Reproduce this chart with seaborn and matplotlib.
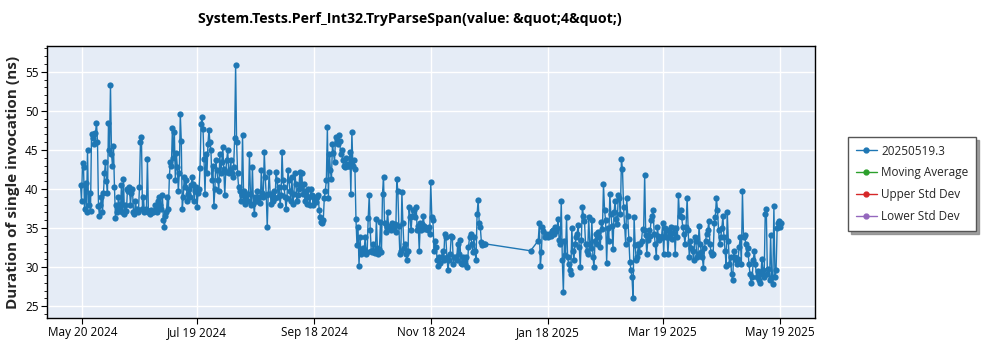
import matplotlib
matplotlib.use("Agg")
import matplotlib.pyplot as plt
import matplotlib.dates as mdates
from matplotlib.ticker import MultipleLocator
from matplotlib.lines import Line2D
import numpy as np
import pandas as pd
import seaborn as sns

TITLE = "System.Tests.Perf_Int32.TryParseSpan(value: &quot;4&quot;)"
Y_LABEL = "Duration of single invocation (ns)"
SERIES_NAME = "20250519.3"
EXTRA_SERIES = ["Moving Average", "Upper Std Dev", "Lower Std Dev"]

# Benchmark runs, grouped by period: (first run, last run, durations in ns)
runs_may_jul = [
    40.5, 38.5, 43.3, 42.8, 37.5, 40.8, 37.0, 45.0, 38.0, 39.5, 37.2, 47.0, 46.5, 47.0, 45.8, 47.2,
    48.5, 46.0, 37.8, 36.5, 38.0, 39.0, 37.0, 39.5, 42.0, 43.5, 41.0, 39.5, 48.5, 45.0, 53.3, 44.5,
    43.0, 45.5, 40.2, 36.3, 38.0, 37.0, 39.0, 38.0, 37.5, 40.5, 37.0, 41.3, 36.8, 38.0, 37.2, 40.0,
    39.8, 40.2, 38.0, 39.5, 40.0, 37.0, 36.8, 38.5, 37.2, 37.5, 37.0, 40.2, 46.0, 46.7, 37.5, 39.0,
    37.0, 37.3, 37.5, 43.8, 37.0, 37.2, 36.8, 37.3, 37.0, 37.0, 37.2, 38.0, 37.4, 37.0, 38.5, 39.0,
    38.0, 37.5, 39.2, 36.0, 35.2, 36.5, 37.0, 39.0, 37.5, 41.7, 43.5, 43.0, 47.8, 44.0,
]
runs_jul_sep = [
    47.3, 41.1, 44.6, 42.8, 39.8, 42.0, 49.6, 46.2, 37.4, 39.0, 41.5, 40.3, 41.1, 38.5, 39.4, 40.0,
    39.0, 40.5, 41.5, 40.7, 38.5, 39.8, 40.3, 37.7, 39.5, 40.0, 42.7, 48.3, 49.2, 47.7, 43.9, 39.4,
    44.5, 42.0, 45.8, 47.6, 46.0, 45.0, 41.1, 43.0, 37.8, 40.0, 43.7, 42.4, 41.1, 39.8, 44.5, 42.0,
    43.5, 45.4, 42.6, 39.2, 42.2, 43.7, 45.0, 42.0, 42.4, 43.7, 42.0, 41.5, 42.8, 46.5, 55.9, 46.0,
    42.0, 40.3, 39.8, 38.5, 39.2, 46.9, 39.8, 38.1, 39.0, 38.5, 39.4, 38.5, 44.5, 39.4, 38.0, 42.8,
    38.1, 36.8, 39.0, 38.5, 39.8, 38.5, 39.0, 38.2, 42.4, 39.5, 39.0, 44.8, 41.5, 39.2, 35.1, 39.4,
    42.2, 39.4, 38.1, 39.4, 38.5, 39.8, 38.9, 42.2, 41.1, 39.0, 40.3, 38.0, 39.2, 44.8, 41.1, 40.3,
    39.0, 37.5, 38.8, 42.4, 41.1, 39.8, 38.5, 41.5, 38.1, 39.4, 42.0, 40.7, 38.5, 39.2, 40.0,
]
runs_sep_nov = [
    42.2, 40.5, 42.0, 39.4, 40.7, 38.5, 39.8, 38.1, 40.0, 39.0, 38.0, 40.0, 39.2, 38.0, 39.0, 38.5,
    38.4, 39.0, 39.2, 37.3, 36.4, 35.8, 35.6, 36.0, 38.9, 39.8, 41.1, 47.9, 38.9, 44.5, 42.4, 41.3,
    45.8, 44.6, 43.5, 46.6, 46.2, 45.8, 46.9, 46.2, 44.5, 45.0, 43.7, 43.0, 42.8, 44.0, 43.2, 42.9,
    43.0, 44.8, 39.4, 47.3, 42.9, 43.7, 42.5, 36.2, 32.8, 35.1, 30.2, 33.8, 31.7, 31.9, 32.5, 32.1,
    33.8, 31.7, 32.0, 36.3, 39.2, 34.7, 32.1, 31.9, 33.0, 32.0, 31.8, 36.2, 32.5, 31.7, 32.3, 35.8,
    32.0, 39.4, 41.5, 35.6, 34.5, 35.2, 37.1, 35.1, 35.3, 34.7, 35.6, 35.1, 34.9, 35.5, 34.5, 41.3,
    39.8, 35.3, 31.7, 32.1, 39.6, 35.6, 32.5, 33.0, 31.7, 30.9, 32.1, 37.7, 36.4, 34.7, 36.6, 37.3,
    37.3, 36.4, 37.7, 34.7, 35.3, 32.1, 35.6, 34.7, 35.5, 36.5,
]
runs_nov_dec = [
    35.3, 34.9, 35.0, 34.7, 35.1, 34.3, 40.9, 36.4, 36.0, 32.1, 33.4, 32.6, 30.9, 30.2, 31.3, 30.6,
    31.3, 32.1, 30.9, 34.3, 33.8, 31.3, 29.6, 30.9, 31.7, 34.0, 33.8, 30.4, 31.3, 31.3, 30.9, 33.0,
    31.7, 33.5, 30.6, 30.4, 31.3, 30.9, 30.4, 31.3, 30.0, 32.6, 33.8, 34.3, 33.0, 31.9, 33.8, 32.1,
    30.9, 36.8, 38.6, 35.6, 35.1, 33.2, 32.8, 33.0, 33.0,
]
runs_jan_single = [32.1]
runs_jan = [33.4, 35.6, 30.1, 31.9, 35.2, 34.6, 33.8, 34.2, 34.0, 33.8, 34.3, 34.1]
runs_jan_mar = [
    34.0, 34.6, 34.8, 34.3, 35.1, 34.6, 35.0, 36.2, 33.5, 33.0, 38.5, 30.9, 26.8, 33.4, 31.5, 36.4,
    31.3, 30.4, 29.6, 29.1, 35.0, 32.1, 30.9, 33.0, 33.8, 34.3, 35.4, 32.6, 30.0, 33.5, 37.7, 36.6,
    35.9, 33.0, 32.1, 31.7, 36.4, 33.0, 32.5, 36.0, 31.3, 30.0, 33.4, 34.3, 33.0, 34.5, 33.8, 32.6,
    35.8, 34.9, 40.6, 37.3, 36.0, 30.6, 35.0, 33.4, 39.4, 36.8, 35.3, 32.3, 37.0, 38.5, 36.2, 35.5,
    39.2, 38.8, 36.8, 43.8, 42.5, 37.7, 35.3, 33.0, 38.8, 36.5, 33.6, 30.7, 29.6, 28.7, 26.0, 36.4,
    32.8, 30.9, 31.3, 33.0, 32.0, 33.0, 33.4, 34.9, 34.7, 41.8, 34.1, 31.7, 33.5, 34.7, 34.0, 36.0,
    36.6, 37.3, 34.3, 33.0, 31.3, 35.1, 34.0, 33.5, 33.8, 33.9, 35.6, 31.7, 35.0, 33.8, 34.8, 31.7,
    33.9, 34.2, 35.2, 33.6, 34.4, 35.0,
]
runs_mar_may = [
    31.7, 35.0, 33.8, 39.2, 36.5, 37.3, 36.4, 35.1, 34.3, 33.0, 35.1, 38.9, 34.7, 31.3, 33.4, 32.5,
    32.1, 30.9, 33.8, 33.4, 31.3, 31.7, 35.3, 33.0, 32.0, 31.3, 29.9, 32.5, 33.4, 34.3, 34.7, 35.9,
    33.0, 32.0, 31.5, 31.7, 35.6, 36.4, 38.9, 37.3, 34.7, 33.0, 33.8, 35.0, 36.6, 33.8, 32.1, 30.2,
    37.1, 33.4, 30.4, 31.3, 29.1, 28.3, 32.1, 31.3, 30.9, 30.4, 31.0, 32.6, 33.8, 30.4, 39.7, 33.8,
    34.1, 33.0, 31.7, 32.5, 30.4, 29.1, 28.0, 28.7, 30.9, 32.1, 30.4, 28.7, 29.5, 28.4, 28.0, 29.1,
    31.1, 29.6, 28.7, 36.8, 37.4, 29.1, 29.8, 28.3, 34.1, 28.7, 27.9, 37.8, 28.7, 29.6, 35.0, 35.6,
    35.9, 35.1, 35.7,
]

periods = [
    ("2024-05-19 00:00", "2024-07-06 12:00", runs_may_jul),
    ("2024-07-07 00:00", "2024-09-10 00:00", runs_jul_sep),
    ("2024-09-10 12:00", "2024-11-14 00:00", runs_sep_nov),
    ("2024-11-14 12:00", "2024-12-16 00:00", runs_nov_dec),
    ("2025-01-09 00:00", "2025-01-09 00:00", runs_jan_single),
    ("2025-01-13 00:00", "2025-01-19 00:00", runs_jan),
    ("2025-01-19 12:00", "2025-03-25 00:00", runs_jan_mar),
    ("2025-03-25 12:00", "2025-05-20 00:00", runs_mar_may),
]

tick_dates = ["2024-05-20", "2024-07-19", "2024-09-18", "2024-11-18",
              "2025-01-18", "2025-03-19", "2025-05-19"]
y_ticks = [25, 30, 35, 40, 45, 50, 55]

frames = []
for start, end, vals in periods:
    stamps = pd.date_range(start, end, periods=len(vals))
    frames.append(pd.DataFrame({"date": stamps, "value": vals}))
df = pd.concat(frames, ignore_index=True)

sns.set_theme(style="darkgrid", rc={
    "axes.facecolor": "#e5ecf6",
    "grid.color": "white",
    "grid.linewidth": 1.0,
    "axes.edgecolor": "black",
    "axes.linewidth": 1.0,
})
plt.rcParams["font.family"] = ["Open Sans", "DejaVu Sans"]

fig = plt.figure(figsize=(10, 3.5), dpi=100)
ax = fig.add_axes([0.047, 0.0914, 0.768, 0.7772])

blue = "#1f77b4"
sns.lineplot(data=df, x="date", y="value", ax=ax, color=blue, linewidth=1.0,
             marker="o", markersize=4.5, markeredgewidth=0, estimator=None,
             sort=True, legend=False)

ax.set_xlim(pd.Timestamp("2024-05-01 12:00"), pd.Timestamp("2025-06-06 12:00"))
ax.set_ylim(23.5, 58.3)
ax.set_xticks([pd.Timestamp(d) for d in tick_dates])
ax.xaxis.set_major_formatter(mdates.DateFormatter("%b %d %Y"))
ax.set_yticks(y_ticks)
ax.yaxis.set_minor_locator(MultipleLocator(1))
ax.grid(True, which="major", color="white", linewidth=1.0)
ax.grid(False, which="minor")
ax.tick_params(axis="both", which="major", direction="out", length=4, width=0.8,
               colors="black", labelsize=8.5, pad=2, bottom=True, left=True)
ax.tick_params(axis="y", which="minor", direction="out", length=2.5, width=0.6,
               colors="black", left=True)
for s in ax.spines.values():
    s.set_visible(True)
    s.set_color("black")
    s.set_linewidth(1.0)

ax.set_xlabel("")
ax.set_ylabel(Y_LABEL, fontsize=11, fontweight="bold", labelpad=4)
fig.text(0.41, 0.945, TITLE, ha="center", va="center", fontsize=10.2, fontweight="bold",
         color="black")

handles = [Line2D([], [], color=blue, marker="o", markersize=3.5, linewidth=1.0)]
for c in ["#2ca02c", "#d62728", "#9467bd"]:
    handles.append(Line2D([], [], color=c, marker="o", markersize=3.5, linewidth=1.0))
leg = fig.legend(handles, [SERIES_NAME] + EXTRA_SERIES, loc="upper left",
                 bbox_to_anchor=(0.848, 0.609), borderaxespad=0.0, frameon=True,
                 fancybox=False, shadow={"color": "#888888", "alpha": 0.8},
                 fontsize=8.5, handlelength=1.8, borderpad=0.65, labelspacing=0.76,
                 handletextpad=0.35)
leg.get_frame().set_edgecolor("#555555")
leg.get_frame().set_linewidth(1.0)
leg.get_frame().set_facecolor("white")

fig.savefig("out.png", dpi=100, facecolor="white")
